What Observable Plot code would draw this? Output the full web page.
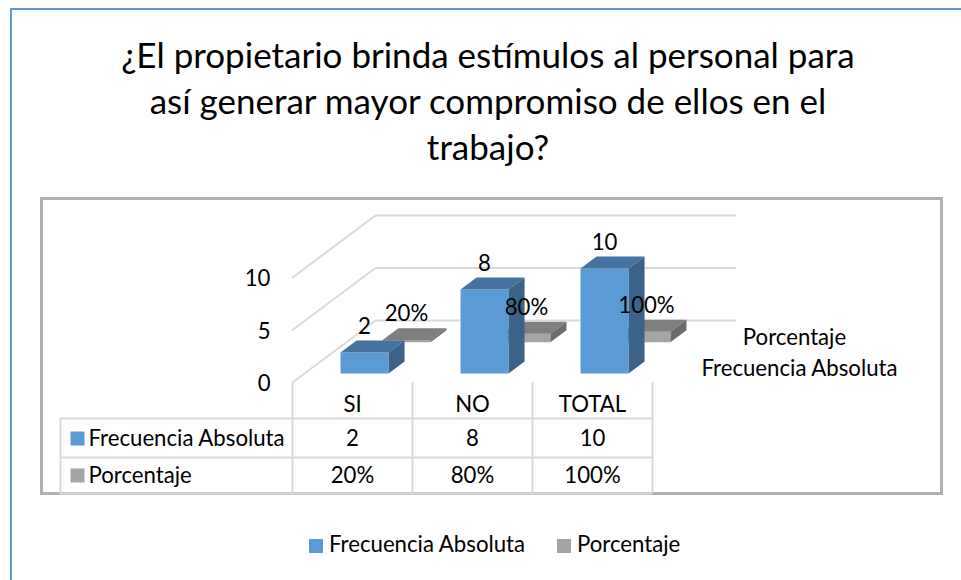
<!DOCTYPE html>
<html>
<head>
<meta charset="utf-8">
<script src="https://cdn.jsdelivr.net/npm/d3@7"></script>
<script src="https://cdn.jsdelivr.net/npm/@observablehq/plot@0.6"></script>
<style>
html,body{margin:0;padding:0;background:#fff;}
#page{position:relative;width:961px;height:580px;overflow:hidden;font-family:Lato,sans-serif;color:#000;}
#outer{position:absolute;left:10px;top:8px;width:960px;height:600px;border:2px solid #5b9bd5;box-sizing:border-box;}
#frame{position:absolute;left:40px;top:197px;width:903px;height:298px;border:3px solid #b0b0b0;box-sizing:border-box;}
#title{position:absolute;left:38px;top:31px;width:900px;text-align:center;font-size:35px;line-height:46px;}
#chart{position:absolute;left:0;top:190px;}
#legend{position:absolute;left:0;top:530px;width:961px;height:28px;font-size:22.2px;line-height:28px;white-space:nowrap;}
#legend span{position:absolute;top:0;}
#legend i{position:absolute;top:9px;width:14px;height:14px;}
</style>
</head>
<body>
<div id="page">
  <div id="outer"></div>
  <div id="frame"></div>
  <div id="title">¿El propietario brinda estímulos al personal para<br>así generar mayor compromiso de ellos en el<br>trabajo?</div>
  <div id="chart"></div>
  <div id="legend"></div>
</div>
<script>
const categories = ["SI", "NO", "TOTAL"];
const frecuencia = [2, 8, 10];
const porcentaje = [0.2, 0.8, 1];
const porcentajeLabels = ["20%", "80%", "100%"];
const frecuenciaLabels = ["2", "8", "10"];
const seriesNames = ["Frecuencia Absoluta", "Porcentaje"];
const yTicks = [0, 5, 10];

const blue = {front: "#5b9bd5", top: "#44739f", side: "#3a6387"};
const gray = {front: "#a5a5a5", top: "#7f7f7f", side: "#6b6b6b"};

// oblique projection: one unit of depth shifts a point right and up, in axis units
const depthX = 83 / 120, depthY = 62 / 10.5;
const project = (cat, val, z) => ({x: cat + z * depthX, y: val + z * depthY});
const barInset = 0.3, barWidth = 0.4, barDepth = 0.193;

function faces(values, z0, key) {
  const front = [], top = [], side = [];
  values.forEach((v, i) => {
    const a = i + barInset, b = a + barWidth, z1 = z0 + barDepth, id = key + i;
    const add = (list, pts) => pts.forEach(p => list.push({...project(...p), id}));
    add(front, [[a, 0, z0], [b, 0, z0], [b, v, z0], [a, v, z0]]);
    add(top, [[a, v, z0], [b, v, z0], [b, v, z1], [a, v, z1]]);
    add(side, [[b, 0, z0], [b, 0, z1], [b, v, z1], [b, v, z0]]);
  });
  return {front, top, side};
}

const zBlue = 0.145, zGray = 0.65;
const bf = faces(frecuencia, zBlue, "f"), gf = faces(porcentaje, zGray, "p");
const faceMarks = (f, c) => [
  Plot.line(f.front, {x: "x", y: "y", z: "id", fill: c.front, stroke: "none"}),
  Plot.line(f.top, {x: "x", y: "y", z: "id", fill: c.top, stroke: "none"}),
  Plot.line(f.side, {x: "x", y: "y", z: "id", fill: c.side, stroke: "none"})
];

// back walls and gridlines
const grid = yTicks.flatMap(t => [
  {...project(0, t, 0), id: t}, {...project(0, t, 1), id: t}, {x: (735 - 292) / 120, y: t + depthY, id: t}
]);

// data table, positions in axis units below zero
const pxY = 10.5, pxX = 120;
const rowLines = [(418 - 382) / -pxY, (457 - 382) / -pxY, (493 - 382) / -pxY];
const tableLeft = (60 - 292) / pxX;
const rows = [
  {name: seriesNames[0], labels: frecuenciaLabels, y: (438 - 382) / -pxY, color: blue.front},
  {name: seriesNames[1], labels: porcentajeLabels, y: (475 - 382) / -pxY, color: gray.front}
];
const cells = rows.flatMap(r => r.labels.map((t, i) => ({x: i + 0.5, y: r.y, t})));
const colLines = [0, 1, 2, 3];
const labelSize = 22.2;

const plot = Plot.plot({
  width: 961,
  height: 310,
  marginLeft: 292,
  marginRight: 309,
  marginTop: 87,
  marginBottom: 118,
  style: {fontFamily: "Lato, sans-serif", background: "transparent", color: "#000", overflow: "visible"},
  x: {domain: [0, 3], axis: null},
  y: {domain: [0, 10]},
  marks: [
    Plot.line(grid, {x: "x", y: "y", z: "id", stroke: "#d9d9d9", strokeWidth: 2}),
    Plot.axisY(yTicks, {tickSize: 0, tickPadding: 22, fontSize: labelSize, label: null, anchor: "left", stroke: "none", fill: "#000", dy: 1.5}),
    ...faceMarks(gf, gray),
    ...faceMarks(bf, blue),
    Plot.text(porcentaje, {
      x: (d, i) => project(i + barInset + barWidth / 2, d, zGray).x,
      y: (d, i) => project(i, d, zGray).y,
      text: (d, i) => porcentajeLabels[i], dy: -26, fontSize: labelSize, fill: "#000"
    }),
    Plot.text(frecuencia, {
      x: (d, i) => project(i + barInset + barWidth / 2, d, zBlue).x,
      y: (d, i) => project(i, d, zBlue).y,
      text: (d, i) => frecuenciaLabels[i], dy: -26, fontSize: labelSize, fill: "#000"
    }),
    // depth axis series names
    Plot.text([seriesNames[1]], {x: 3, y: 0, dx: 142, dy: -45, fontSize: labelSize, text: d => d, fill: "#000"}),
    Plot.text([seriesNames[0]], {x: 3, y: 0, dx: 147, dy: -14, fontSize: labelSize, text: d => d, fill: "#000"}),
    // table rules
    Plot.ruleX(colLines, {y1: 0, y2: rowLines[2], stroke: "#d9d9d9", strokeWidth: 2}),
    Plot.ruleX([tableLeft], {y1: rowLines[0], y2: rowLines[2], stroke: "#d9d9d9", strokeWidth: 2}),
    Plot.ruleY(rowLines, {x1: tableLeft, x2: 3, stroke: "#d9d9d9", strokeWidth: 2}),
    // table text
    Plot.text(categories, {x: (d, i) => i + 0.5, y: (404 - 382) / -pxY, text: d => d, fontSize: labelSize, fill: "#000"}),
    Plot.text(cells, {x: "x", y: "y", text: "t", fontSize: labelSize, fill: "#000"}),
    Plot.dot(rows, {x: tableLeft, y: "y", dx: 17, fill: "color", stroke: "none", symbol: "square", r: 7.9}),
    Plot.text(rows, {x: tableLeft, y: "y", dx: 28, text: "name", textAnchor: "start", fontSize: labelSize, fill: "#000"})
  ]
});
document.getElementById("chart").appendChild(plot);

const legend = document.getElementById("legend");
[[309, 329, blue.front, seriesNames[0]], [557, 577, gray.front, seriesNames[1]]].forEach(([sx, tx, c, name]) => {
  const i = document.createElement("i");
  i.style.left = sx + "px"; i.style.background = c;
  const s = document.createElement("span");
  s.style.left = tx + "px"; s.textContent = name;
  legend.append(i, s);
});
</script>
</body>
</html>
